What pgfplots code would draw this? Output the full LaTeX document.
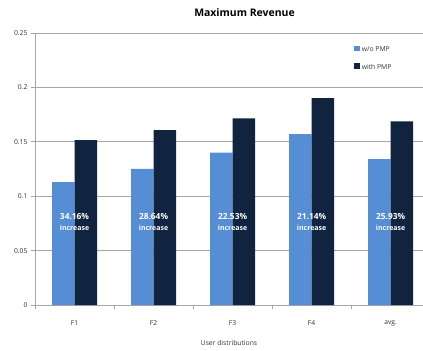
\documentclass[border=0pt]{standalone}
\usepackage{pgfplots}
\pgfplotsset{compat=1.18}
\usepackage{fontspec}
\setmainfont{Open Sans}
\definecolor{cblue}{HTML}{558ED5}
\definecolor{cdark}{HTML}{10243F}
\definecolor{cgrid}{HTML}{A6A6A6}
\tikzset{
  pctlab/.style={text=white, font=\fontsize{8.4}{9}\selectfont\bfseries, inner sep=0pt},
  inclab/.style={text=white, font=\fontsize{7}{8}\selectfont\bfseries, inner sep=0pt},
}
\begin{document}
\begin{tikzpicture}[x=1bp,y=1bp]
\useasboundingbox (0,0) rectangle (423,351);
\begin{axis}[
  at={(35bp,46bp)}, anchor=south west,
  scale only axis, width=388bp, height=272bp,
  ybar=0pt, bar width=22.5bp,
  xmin=-0.5, xmax=4.41, ymin=0, ymax=0.25,
  ytick={0,0.05,0.1,0.15,0.2,0.25},
  yticklabel style={/pgf/number format/fixed,/pgf/number format/precision=2},
  /pgf/number format/assume math mode=true,
  xtick={0,1,2,3,4}, xticklabels={F1,F2,F3,F4,avg.},
  minor xtick={-0.5,0.5,1.5,2.5,3.5},
  major x tick style={draw=none},
  minor x tick style={cgrid, line width=0.8bp},
  y tick style={cgrid, line width=0.8bp},
  tick align=outside, major tick length=4bp, minor tick length=4bp,
  ymajorgrids, grid style={cgrid, line width=0.8bp},
  axis x line*=bottom, axis y line*=left,
  axis line style={cgrid, line width=1bp, -},
  tick label style={font=\fontsize{6.8}{7}\selectfont, text=black!80},
  xticklabel style={yshift=-8bp},
  xlabel={User distributions}, xlabel style={font=\fontsize{6.8}{7}\selectfont, text=black!80, yshift=-8bp},
  title={\textbf{Maximum Revenue}}, title style={font=\fontsize{10.5}{12}\selectfont, at={(0.54,1)}, yshift=7bp},
  legend style={at={(0.82,0.96)}, anchor=north west, draw=none, fill=white, font=\fontsize{6.8}{7}\selectfont, text=black!80, row sep=7bp, inner sep=1bp},
  legend cell align=left,
  legend image code/.code={\fill[#1] (0bp,-1bp) rectangle (5.5bp,4.5bp);},
]
\addplot[fill=cblue, draw=none] coordinates {(0,0.113) (1,0.125) (2,0.140) (3,0.157) (4,0.134)};
\addplot[fill=cdark, draw=none] coordinates {(0,0.1516) (1,0.1608) (2,0.1715) (3,0.1902) (4,0.1687)};
\legend{w/o PMP, with PMP}
\node[pctlab] at (axis cs:0,0.081) {34.16\%};
\node[pctlab] at (axis cs:1,0.081) {28.64\%};
\node[pctlab] at (axis cs:2,0.081) {22.53\%};
\node[pctlab] at (axis cs:3,0.081) {21.14\%};
\node[pctlab] at (axis cs:4,0.081) {25.93\%};
\node[inclab] at (axis cs:0,0.0705) {increase};
\node[inclab] at (axis cs:1,0.0705) {increase};
\node[inclab] at (axis cs:2,0.0705) {increase};
\node[inclab] at (axis cs:3,0.0705) {increase};
\node[inclab] at (axis cs:4,0.0705) {increase};
\end{axis}
\end{tikzpicture}
\end{document}
